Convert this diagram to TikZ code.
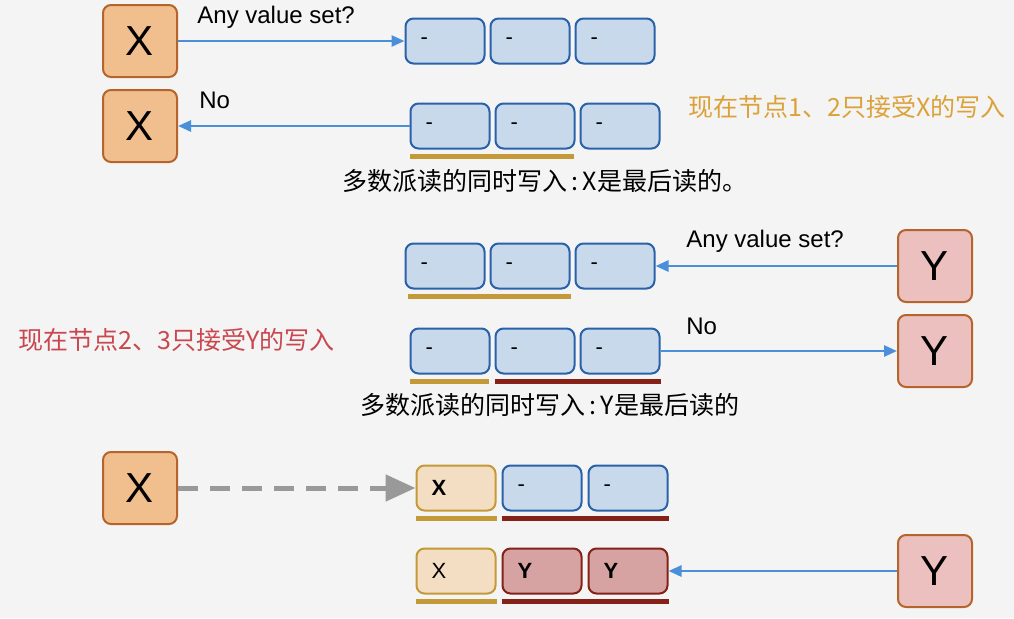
\documentclass[tikz,border=0pt]{standalone}
\usepackage{fontspec}
\setmainfont{Liberation Sans}
\newfontfamily\cjk{Noto Sans CJK SC}
\usepackage{xcolor}
\usepackage{tikz}
\usetikzlibrary{positioning, arrows.meta, calc}

\definecolor{xfill}{HTML}{F1BF8E}
\definecolor{xdraw}{HTML}{B5652B}
\definecolor{yfill}{HTML}{EBC0BF}
\definecolor{cellfill}{HTML}{C8D9EB}
\definecolor{celldraw}{HTML}{2A62A9}
\definecolor{oldfill}{HTML}{F3DDC3}
\definecolor{golddraw}{HTML}{C49A38}
\definecolor{newfill}{HTML}{D6A3A2}
\definecolor{reddraw}{HTML}{862118}
\definecolor{arrowblue}{HTML}{4A8FDA}
\definecolor{dashgray}{HTML}{999999}
\definecolor{textgold}{HTML}{DCA23A}
\definecolor{textred}{HTML}{C9474F}
\definecolor{bg}{HTML}{F4F4F4}

\begin{document}
\begin{tikzpicture}[x=0.5pt, y=-0.5pt,
    valnode/.style={rectangle, rounded corners=4pt, draw=xdraw, line width=1pt, minimum width=37pt, minimum height=36pt, font=\fontsize{21}{21}\selectfont},
    xnode/.style={valnode, fill=xfill},
    ynode/.style={valnode, fill=yfill},
    cellnode/.style={rectangle, rounded corners=4pt, line width=1pt, minimum height=22.5pt, text width=24.5pt, inner xsep=7.5pt, align=left, font=\fontsize{11}{11}\selectfont, draw=celldraw, fill=cellfill},
    oldcell/.style={cellnode, draw=golddraw, fill=oldfill},
    newcell/.style={cellnode, draw=reddraw, fill=newfill},
    readarrow/.style={draw=arrowblue, line width=1.3pt, -{Triangle[length=6.5pt, width=5.5pt]}},
    goldline/.style={draw=golddraw, line width=2.5pt},
    redline/.style={draw=reddraw, line width=2.5pt},
    lbl/.style={font=\fontsize{12}{12}\selectfont, inner sep=0pt},
    cjklbl/.style={font=\cjk\fontsize{12.5}{12.5}\selectfont, inner sep=0pt},
]
\fill[bg] (0,0) rectangle (1014,618);

% X reads, nothing set
\node[xnode](x1) at (140,41){X};
\node[cellnode](c11) at (445,41){-};
\node[cellnode](c12)[right = 2pt of c11]{-};
\node[cellnode](c13)[right = 2pt of c12]{-};
\draw[readarrow] (x1) -- (c11);
\node[lbl, anchor=west](q1) at (197,17){Any value set?};

\node[xnode](x2) at (140,126){X};
\node[cellnode](c21) at (450,126){-};
\node[cellnode](c22)[right = 2pt of c21]{-};
\node[cellnode](c23)[right = 2pt of c22]{-};
\draw[readarrow] (c21) -- (x2);
\node[lbl, anchor=west](n2) at (199,100){No};
\draw[goldline] ($(c21.south west)+(0,-3.5pt)$) -- ($(c22.south east)+(-1pt,-3.5pt)$);
\node[cjklbl](t2) at (545,181){多数派读的同时写入\,:\,X是最后读的。};
\node[cjklbl, anchor=west, text=textgold](s2) at (688,107){现在节点1、2只接受X的写入};

% Y reads, nothing set
\node[ynode](y3) at (935,266){Y};
\node[cellnode](c31) at (445,266){-};
\node[cellnode](c32)[right = 2pt of c31]{-};
\node[cellnode](c33)[right = 2pt of c32]{-};
\draw[readarrow] (y3) -- (c33);
\node[lbl, anchor=west](q3) at (686,241){Any value set?};
\draw[goldline] ($(c31.south west)+(1.5pt,-3.5pt)$) -- ($(c32.south east)+(0,-3.5pt)$);

\node[ynode](y4) at (935,351){Y};
\node[cellnode](c41) at (450,351){-};
\node[cellnode](c42)[right = 2pt of c41]{-};
\node[cellnode](c43)[right = 2pt of c42]{-};
\draw[readarrow] (c43) -- (y4);
\node[lbl, anchor=west](n4) at (686,326){No};
\draw[goldline] ($(c41.south west)+(0,-3.5pt)$) -- ($(c41.south east)+(-1pt,-3.5pt)$);
\draw[redline] ($(c42.south west)+(0,-3.5pt)$) -- ($(c43.south east)+(0,-3.5pt)$);
\node[cjklbl](t4) at (550,405){多数派读的同时写入\,:\,Y是最后读的};
\node[cjklbl, anchor=west, text=textred](s4) at (18,340){现在节点2、3只接受Y的写入};

% both writes land
\node[xnode](x5) at (140,488){X};
\node[oldcell](c51) at (456,488){\textbf{X}};
\node[cellnode](c52)[right = 2.5pt of c51]{-};
\node[cellnode](c53)[right = 2.5pt of c52]{-};
\draw[dashgray, line width=2.5pt, dash pattern=on 10pt off 6pt, -{Triangle[length=15pt, width=13pt]}] (x5) -- (c51);
\draw[goldline] ($(c51.south west)+(0,-3.5pt)$) -- ($(c51.south east)+(0,-3.5pt)$);
\draw[redline] ($(c52.south west)+(0,-3.5pt)$) -- ($(c53.south east)+(0,-3.5pt)$);

\node[ynode](y6) at (935,571){Y};
\node[oldcell](c61) at (456,571){X};
\node[newcell](c62)[right = 2.5pt of c61]{\textbf{Y}};
\node[newcell](c63)[right = 2.5pt of c62]{\textbf{Y}};
\draw[readarrow] (y6) -- (c63);
\draw[goldline] ($(c61.south west)+(0,-3.5pt)$) -- ($(c61.south east)+(0,-3.5pt)$);
\draw[redline] ($(c62.south west)+(0,-3.5pt)$) -- ($(c63.south east)+(0,-3.5pt)$);
\end{tikzpicture}
\end{document}
